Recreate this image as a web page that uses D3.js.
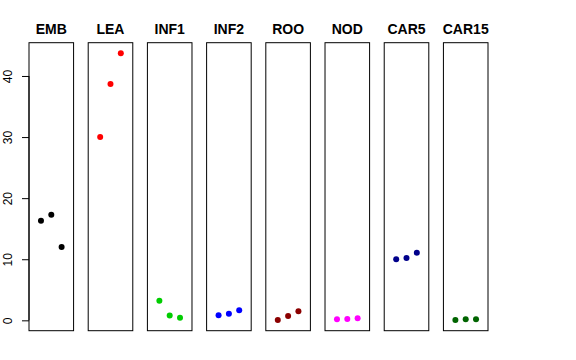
<!DOCTYPE html>
<html>
<head>
<meta charset="utf-8">
<script src="https://cdn.jsdelivr.net/npm/d3@7"></script>
<style>
  body { margin: 0; background: #fff; }
  svg { display: block; }
</style>
</head>
<body>
<svg id="chart" width="576" height="360"></svg>
<script>
// panel names and colours
const groups = ["EMB", "LEA", "INF1", "INF2", "ROO", "NOD", "CAR5", "CAR15"];
const colors = ["#000000", "#ff0000", "#00cd00", "#0000ff", "#8b0000", "#ff00ff", "#00008b", "#006400"];

// three values per panel, at x = 1, 2, 3
const EMB   = [16.3, 17.3, 12.0];
const LEA   = [30.0, 38.7, 43.7];
const INF1  = [3.2, 0.8, 0.43];
const INF2  = [0.82, 1.08, 1.64];
const ROO   = [0.05, 0.7, 1.47];
const NOD   = [0.16, 0.21, 0.33];
const CAR5  = [10.0, 10.2, 11.07];
const CAR15 = [0.05, 0.16, 0.16];

const series = [EMB, LEA, INF1, INF2, ROO, NOD, CAR5, CAR15];
const yTicks = [0, 10, 20, 30, 40];

const svg = d3.select("#chart");

const plotTop = 42.7, plotBottom = 330.7;

// panel placement
const panel = d3.scaleBand()
  .domain(groups)
  .range([29, 488])
  .paddingInner(0.247)
  .paddingOuter(0);

// shared y scale, R style 4% padding on the data range
const all = series.flat();
let ymin = d3.min(all), ymax = d3.max(all);
let pad = (ymax - ymin) * 0.04;
const y = d3.scaleLinear().domain([ymin - pad, ymax + pad]).range([plotBottom, plotTop]);

// x inside each panel, xlim 0..4
const x = d3.scaleLinear().domain([-0.16, 4.16]).range([0, panel.bandwidth()]);

groups.forEach(function(g, i) {
  let gp = svg.append("g").attr("transform", "translate(" + panel(g) + ",0)");

  gp.append("rect")
    .attr("x", 0)
    .attr("y", plotTop)
    .attr("width", panel.bandwidth())
    .attr("height", plotBottom - plotTop)
    .attr("fill", "none")
    .attr("stroke", "#000")
    .attr("stroke-width", 1);

  gp.append("text")
    .text(g)
    .attr("x", panel.bandwidth() / 2)
    .attr("y", 33.5)
    .attr("text-anchor", "middle")
    .style("font-family", "Liberation Sans, Arial, sans-serif")
    .style("font-weight", "bold")
    .style("font-size", "14px");

  gp.selectAll("circle")
    .data(series[i])
    .join("circle")
    .attr("cx", (d, j) => x(j + 1))
    .attr("cy", d => y(d))
    .attr("r", 3)
    .attr("fill", colors[i]);
});

// y axis on the first panel only
const axis = svg.append("g")
  .attr("transform", "translate(" + panel(groups[0]) + ",0)")
  .call(d3.axisLeft(y).tickValues(yTicks).tickSize(7).tickPadding(5));

axis.select(".domain")
  .attr("d", "M0," + y(0) + "V" + y(40));

axis.selectAll(".tick line").attr("stroke", "#000");
axis.selectAll(".tick text")
  .style("font-family", "Liberation Sans, Arial, sans-serif")
  .style("font-size", "12px")
  .attr("fill", "#000")
  .attr("transform", "rotate(-90)")
  .attr("x", 0)
  .attr("dy", "0")
  .attr("y", -17)
  .attr("text-anchor", "middle");
</script>
</body>
</html>
